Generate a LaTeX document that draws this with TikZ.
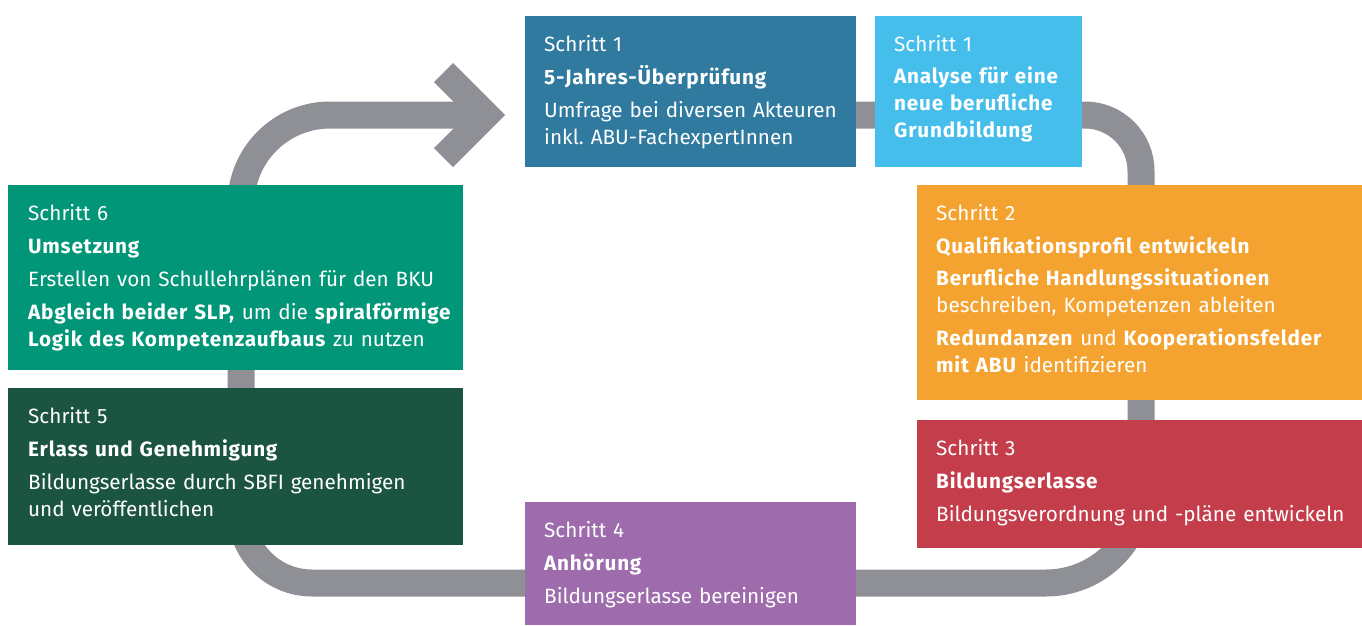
\documentclass[tikz,border=0pt]{standalone}
\usepackage{fontspec}
\setmainfont{Fira Sans}[BoldFeatures={LetterSpace=3.8}]
\usetikzlibrary{shapes.geometric, arrows}
\definecolor{stepone}{HTML}{2F7A9E}
\definecolor{stepanalyse}{HTML}{45BEEB}
\definecolor{steptwo}{HTML}{F5A330}
\definecolor{stepthree}{HTML}{C43D4B}
\definecolor{stepfour}{HTML}{9E6CAD}
\definecolor{stepfive}{HTML}{1B5441}
\definecolor{stepsix}{HTML}{009677}
\definecolor{trackgray}{HTML}{8E9095}
\tikzstyle{stepbox} =[rectangle, anchor=north west, inner sep=0pt, draw=none]
\tikzstyle{steptext} =[anchor=north west, inner sep=0pt, text width=425pt, align=left, text=white, font=\fontsize{20.7}{27}\selectfont\frenchspacing, execute at begin node=\rule{0pt}{20pt}]
\tikzstyle{track} =[line width=27pt, draw=trackgray]

\begin{document}
\begin{tikzpicture}[x=1pt, y=-1pt]
\useasboundingbox (0,0) rectangle (1362,625);
% the loop behind the boxes
\coordinate (loopstart) at (700,115);
\coordinate (loopend) at (470,115);
\draw [track] (loopstart) -- (1085,115) arc[start angle=-90, end angle=0, radius=56]
  -- (1141,488) arc[start angle=0, end angle=90, radius=95]
  -- (312,583) arc[start angle=90, end angle=180, radius=71]
  -- (241,204) arc[start angle=180, end angle=270, radius=89] -- (loopend);
\fill [trackgray] (434,82) -- (453,63) -- (505,115) -- (453,167) -- (434,148) -- (467,115) -- cycle;

% boxes
\node (s1) [stepbox, fill=stepone, minimum width=331pt, minimum height=151pt] at (525,16) {};
\node (s1b) [stepbox, fill=stepanalyse, minimum width=207pt, minimum height=151pt] at (875,16) {};
\node (s2) [stepbox, fill=steptwo, minimum width=445pt, minimum height=215pt] at (917,185) {};
\node (s3) [stepbox, fill=stepthree, minimum width=445pt, minimum height=128pt] at (917,420) {};
\node (s4) [stepbox, fill=stepfour, minimum width=331pt, minimum height=123pt] at (525,502) {};
\node (s5) [stepbox, fill=stepfive, minimum width=455pt, minimum height=157pt] at (8,388) {};
\node (s6) [stepbox, fill=stepsix, minimum width=455pt, minimum height=185pt] at (8,185) {};

% texts
\node (t1) [steptext] at ([xshift=19pt, yshift=-15pt]s1.north west) {Schritt 1\\[6pt]
  \textbf{5-Jahres-Überprüfung}\\[6pt]
  Umfrage bei diversen Akteuren\\
  inkl. ABU-FachexpertInnen};
\node (t1b) [steptext] at ([xshift=19pt, yshift=-15pt]s1b.north west) {Schritt 1\\[5pt]
  \textbf{Analyse für eine}\\
  \textbf{neue berufliche}\\
  \textbf{Grundbildung}};
\node (t2) [steptext] at ([xshift=19pt, yshift=-15pt]s2.north west) {Schritt 2\\[6pt]
  \textbf{Qualifikationsprofil entwickeln}\\[5pt]
  \textbf{Berufliche Handlungssituationen}\\
  beschreiben, Kompetenzen ableiten\\[6pt]
  \textbf{Redundanzen} und \textbf{Kooperationsfelder}\\
  \textbf{mit ABU} identifizieren};
\node (t3) [steptext] at ([xshift=19pt, yshift=-15pt]s3.north west) {Schritt 3\\[6pt]
  \textbf{Bildungserlasse}\\[6pt]
  Bildungsverordnung und -pläne entwickeln};
\node (t4) [steptext] at ([xshift=19pt, yshift=-15pt]s4.north west) {Schritt 4\\[6pt]
  \textbf{Anhörung}\\[6pt]
  Bildungserlasse bereinigen};
\node (t5) [steptext] at ([xshift=20pt, yshift=-15pt]s5.north west) {Schritt 5\\[6pt]
  \textbf{Erlass und Genehmigung}\\[6pt]
  Bildungserlasse durch SBFI genehmigen\\
  und veröffentlichen};
\node (t6) [steptext] at ([xshift=20pt, yshift=-15pt]s6.north west) {Schritt 6\\[6pt]
  \textbf{Umsetzung}\\[6pt]
  Erstellen von Schullehrplänen für den BKU\\[6pt]
  \textbf{Abgleich beider SLP,} um die \textbf{spiralförmige}\\
  \textbf{Logik des Kompetenzaufbaus} zu nutzen};
\end{tikzpicture}
\end{document}
